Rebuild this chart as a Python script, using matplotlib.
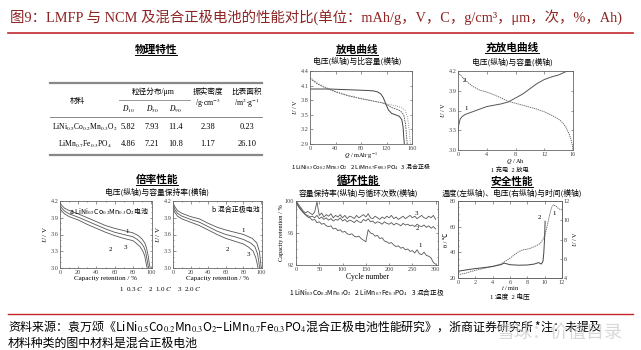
import numpy as np
import matplotlib
matplotlib.use('Agg')
import matplotlib.pyplot as plt
from matplotlib.lines import Line2D
from matplotlib.ticker import MultipleLocator

plt.rcParams['font.family'] = ['Liberation Serif', 'Noto Sans CJK SC']
plt.rcParams['mathtext.fontset'] = 'stix'
CJK = 'Noto Sans CJK SC'

# ---- data ----
title = '图9：LMFP 与 NCM 及混合正极电池的性能对比(单位：mAh/g，V，C，g/cm³，μm，次，%，Ah)'
source1 = ('资料来源：袁万颂《LiNi$_{0.5}$Co$_{0.2}$Mn$_{0.3}$O$_2$–LiMn$_{0.7}$Fe$_{0.3}$PO$_4$'
           '混合正极电池性能研究》，浙商证券研究所 *注：未提及')
source2 = '材料种类的图中材料是混合正极电池'

tbl_names = ['LiNi$_{0.5}$Co$_{0.2}$Mn$_{0.3}$O$_2$', 'LiMn$_{0.7}$Fe$_{0.3}$PO$_4$']
tbl_d10 = ['5.82', '4.86']
tbl_d50 = ['7.93', '7.21']
tbl_d90 = ['11.4', '10.8']
tbl_tap = ['2.38', '1.17']
tbl_bet = ['0.23', '26.10']

# discharge curves (Q mAh/g, U V)
dis_lmfp_q = [0, 15, 30, 50, 70, 90, 100, 106, 111, 115, 119, 123, 128, 134, 140, 144, 146, 147, 148]
dis_lmfp_u = [4.03, 4.03, 4.03, 4.02, 4.01, 4.0, 3.99, 3.97, 3.93, 3.85, 3.72, 3.6, 3.53, 3.5, 3.47, 3.4, 3.25, 3.05, 2.9]
dis_ncm_q = [0, 5, 12, 25, 40, 60, 80, 100, 115, 125, 135, 143, 149, 153, 155, 156.5, 157.5]
dis_ncm_u = [4.27, 4.22, 4.15, 4.06, 3.98, 3.9, 3.84, 3.78, 3.74, 3.71, 3.68, 3.65, 3.6, 3.45, 3.25, 3.05, 2.9]
dis_mix_q = [0, 5, 12, 25, 40, 60, 80, 100, 115, 122, 128, 135, 142, 147, 150, 151.5, 152.5]
dis_mix_u = [4.25, 4.2, 4.13, 4.05, 3.97, 3.89, 3.83, 3.78, 3.74, 3.7, 3.65, 3.62, 3.58, 3.5, 3.3, 3.05, 2.9]

# charge / discharge (Q Ah, U V)
chg_q = [0, 0.1, 0.3, 0.6, 1.0, 2, 3, 4, 5, 6, 7, 8, 9, 10, 11, 12, 13, 14, 15, 15.5, 16]
chg_u = [3.27, 3.38, 3.47, 3.51, 3.54, 3.58, 3.62, 3.66, 3.68, 3.70, 3.73, 3.79, 3.85, 3.93, 4.01, 4.07, 4.11, 4.14, 4.19, 4.2, 4.2]
dchg_q = [0, 0.5, 1, 2, 3, 4, 5, 6, 7, 8, 9, 10, 11, 12, 13, 14, 14.5, 15, 15.4, 15.7, 15.9, 16]
dchg_u = [4.18, 4.12, 4.06, 3.97, 3.91, 3.88, 3.84, 3.79, 3.74, 3.71, 3.68, 3.65, 3.62, 3.58, 3.53, 3.47, 3.42, 3.35, 3.26, 3.17, 3.08, 3.0]

# rate performance (capacity retention %, U V)
ra_x1 = [0, 2, 5, 10, 20, 30, 40, 50, 60, 70, 80, 86, 90, 93, 95, 97, 98, 99]
ra_y1 = [4.17, 4.12, 4.07, 4.03, 3.97, 3.9, 3.83, 3.76, 3.71, 3.67, 3.63, 3.58, 3.52, 3.45, 3.36, 3.2, 3.08, 3.0]
ra_x2 = [0, 2, 5, 10, 20, 30, 40, 50, 60, 70, 80, 85, 89, 92, 94, 95.5, 96.5, 97.3]
ra_y2 = [4.12, 4.07, 4.02, 3.97, 3.91, 3.84, 3.77, 3.7, 3.64, 3.6, 3.56, 3.51, 3.45, 3.38, 3.29, 3.16, 3.06, 3.0]
ra_x3 = [0, 2, 5, 10, 20, 30, 40, 50, 60, 70, 80, 84, 88, 91, 93, 94, 95, 95.7]
ra_y3 = [4.07, 4.02, 3.97, 3.92, 3.86, 3.78, 3.71, 3.64, 3.58, 3.53, 3.49, 3.44, 3.38, 3.3, 3.22, 3.13, 3.05, 3.0]
rb_x1 = [0, 2, 5, 10, 20, 30, 40, 50, 60, 70, 80, 90, 95, 98, 99.5, 100]
rb_y1 = [4.17, 4.1, 4.03, 3.98, 3.92, 3.88, 3.8, 3.73, 3.68, 3.64, 3.6, 3.53, 3.45, 3.3, 3.1, 3.0]
rb_x2 = [0, 2, 5, 10, 20, 30, 40, 50, 60, 70, 80, 88, 93, 96, 97.5, 98.3]
rb_y2 = [4.12, 4.05, 3.98, 3.93, 3.87, 3.82, 3.74, 3.66, 3.6, 3.56, 3.51, 3.45, 3.38, 3.25, 3.1, 3.0]
rb_x3 = [0, 2, 5, 10, 20, 30, 40, 50, 60, 70, 80, 86, 91, 94, 95.5, 96.5]
rb_y3 = [4.07, 4.0, 3.93, 3.88, 3.82, 3.76, 3.68, 3.6, 3.53, 3.48, 3.43, 3.37, 3.3, 3.18, 3.08, 3.0]

# cycle performance (every 5 cycles)
cycles = np.arange(0, 301, 5)
cyc_ncm = [100.0, 99.4, 99.0, 98.6, 98.3, 98.0, 97.9, 97.6, 97.7, 97.3,
           97.4, 97.1, 97.2, 96.9, 96.8, 96.9, 96.5, 96.6, 96.3, 96.4,
           96.1, 96.2, 95.9, 95.8, 95.9, 95.6, 95.5, 95.6, 95.3, 95.1,
           94.9, 96.4, 96.0, 95.9, 95.6, 95.7, 95.3, 95.4, 95.0, 94.9,
           94.7, 94.8, 94.5, 94.3, 94.4, 94.1, 94.2, 93.9, 94.0, 93.7,
           93.8, 93.5, 93.9, 93.4, 93.3, 93.6, 93.2, 93.1, 92.9, 92.3,
           92.1]
cyc_lmfp = [100.0, 99.3, 98.9, 98.6, 98.3, 98.2, 98.0, 98.1, 97.9, 98.2,
            97.8, 98.0, 97.7, 97.9, 97.6, 97.8, 97.5, 97.7, 97.6, 97.9,
            97.5, 97.7, 97.4, 97.6, 97.5, 97.3, 97.6, 97.4, 97.3, 97.7,
            97.5, 97.8, 97.4, 97.5, 97.2, 97.4, 97.3, 97.1, 97.4, 97.2,
            97.1, 97.3, 97.0, 97.2, 97.1, 96.9, 97.2, 97.0, 97.1, 96.9,
            97.0, 96.8, 97.1, 96.9, 96.8, 97.0, 96.7, 96.9, 96.6, 96.8,
            96.5]
cyc_mix = [100.0, 99.6, 99.2, 98.8, 98.5, 98.7, 98.5, 98.3, 98.6, 99.9,
           98.2, 98.5, 98.0, 98.3, 98.1, 98.4, 97.9, 98.2, 98.0, 98.3,
           97.9, 98.2, 97.8, 98.1, 98.0, 97.8, 98.2, 97.9, 98.1, 98.3,
           98.0, 98.4, 97.9, 97.8, 98.1, 97.9, 97.7, 98.0, 97.8, 98.1,
           97.9, 98.2, 97.8, 98.0, 97.7, 97.9, 98.1, 97.8, 98.0, 98.2,
           97.9, 98.1, 97.8, 98.0, 98.2, 97.9, 97.8, 98.1, 97.9, 98.2,
           97.7]

# safety test (t min)
saf_tv = [0, 1, 2, 3, 4, 5, 5.3, 5.6, 6, 7, 8, 8.8, 9.3, 9.6, 9.8, 9.9, 10.0, 10.05]
saf_v = [4.7, 4.85, 4.98, 5.08, 5.2, 5.4, 5.55, 5.48, 5.38, 5.33, 5.35, 5.45, 5.6, 5.45, 5.7, 6.6, 8.3, 9.9]
saf_tt = [0, 1, 2, 3, 4, 5, 6, 6.5, 7, 7.5, 8, 8.5, 9, 9.5, 9.8, 10.0, 10.2, 10.4, 10.6, 10.8, 11.0, 11.3, 11.6, 12]
saf_temp = [22.5, 24, 26, 27.5, 29, 31, 35.5, 38, 40.5, 42, 42.5, 43.5, 45, 47, 50, 53, 58, 64, 70, 75, 77, 76, 74, 73]

# ---- figure ----
W, H = 641, 350
fig = plt.figure(figsize=(W / 100, H / 100), dpi=100)
LC = '#555555'


def fx(x):
    return x / W


def fy(y):
    return 1 - y / H


def put(x, y, s, size, ha='center', **kw):
    return fig.text(fx(x), fy(y), s, fontsize=size, ha=ha, va='center', **kw)


def hline(x0, x1, y, lw=0.8, color='#888888'):
    fig.add_artist(Line2D([fx(x0), fx(x1)], [fy(y), fy(y)], lw=lw, color=color))


def box(l, t, r, b):
    ax = fig.add_axes([fx(l), fy(b), (r - l) / W, (b - t) / H])
    for sp in ax.spines.values():
        sp.set_linewidth(0.6)
        sp.set_color('#666666')
    ax.tick_params(which='both', direction='in', top=True, right=True,
                   width=0.4, labelsize=4.5, pad=1.2, colors='#444444')
    ax.tick_params(which='major', length=1.8)
    ax.tick_params(which='minor', length=1.0)
    return ax


heads = []


def head(x, y, s, sub, sub_y):
    heads.append(put(x, y, s, 7.7, fontweight='bold', family=CJK))
    put(x, sub_y, sub, 5.6, family=CJK)


# title and source
put(10, 17, title, 10.4, ha='left', color='#8e2424')
hline(8, 633, 33, lw=1.2, color='#c0282d')
hline(8, 633, 314, lw=1.0, color='#c0282d')
put(8, 326, source1, 8.6, ha='left', family=CJK)
put(8, 343, source2, 8.6, ha='left', family=CJK)
put(560, 333, '雪球：价值目录', 13, color='#c8c8c8', alpha=0.7, family=CJK)

# ---- physical table ----
head(156, 50, '物理特性', '', 50)
hline(50, 262, 83, lw=1.6)
hline(119, 190, 100, lw=0.6)
hline(50, 262, 117, lw=0.7)
hline(50, 262, 155, lw=1.6)
put(77, 101, '材料', 5.5)
put(153, 92, '粒径分布/μm', 5.5)
for x, s in zip([128, 152, 175], ['$D_{10}$', '$D_{50}$', '$D_{90}$']):
    put(x, 109, s, 5.5)
put(208, 91.5, '振实密度', 5.5)
put(208, 103, '/g·cm$^{-3}$', 5.5)
put(247, 91.5, '比表面积', 5.5)
put(247, 103, '/m$^2$·g$^{-1}$', 5.5)
for i, y in enumerate([127, 144]):
    put(85, y, tbl_names[i], 5.5)
    put(128, y, tbl_d10[i], 6)
    put(152, y, tbl_d50[i], 6)
    put(176, y, tbl_d90[i], 6)
    put(208, y, tbl_tap[i], 6)
    put(247, y, tbl_bet[i], 6)

# ---- discharge curves ----
head(357, 50, '放电曲线', '电压(纵轴)与比容量(横轴)', 61)
ax = box(310, 71, 412, 144)
ax.plot(dis_lmfp_q, dis_lmfp_u, color='#444444', lw=0.7)
ax.plot(dis_mix_q, dis_mix_u, color=LC, lw=0.6, ls='--', dashes=(2, 1))
ax.plot(dis_ncm_q, dis_ncm_u, color='#777777', lw=0.6, ls=':')
ax.set_xlim(0, 160)
ax.set_ylim(2.9, 4.4)
ax.set_xticks([0, 40, 80, 120, 160])
ax.set_yticks([2.9, 3.2, 3.5, 3.8, 4.1, 4.4])
ax.set_ylabel('$U$ / V', fontsize=4.5, labelpad=1)
put(361, 156, '$Q$ / mAh·g$^{-1}$', 4.5)
put(361, 166.5, '1 LiNi$_{0.5}$Co$_{0.2}$Mn$_{0.3}$O$_2$   2 LiMn$_{0.7}$Fe$_{0.3}$PO$_4$   3 混合正极',
    4.3, family=CJK)

# ---- charge / discharge ----
head(512, 48, '充放电曲线', '电压(纵轴)与容量(横轴)', 62)
ax = box(458, 71, 573, 150)
ax.plot(chg_q, chg_u, color=LC, lw=0.7)
ax.plot(dchg_q, dchg_u, color=LC, lw=0.6, ls='--', dashes=(1.5, 1))
ax.set_xlim(0, 16)
ax.set_ylim(3.0, 4.2)
ax.set_xticks([0, 4, 8, 12, 16])
ax.set_yticks([3.0, 3.3, 3.6, 3.9, 4.2])
ax.set_ylabel('$U$ / V', fontsize=4.5, labelpad=1)
ax.text(0.9, 3.6, '1', fontsize=5)
ax.text(0.7, 4.03, '2', fontsize=5)
put(515, 162, '$Q$ / Ah', 4.5)
put(510, 170, '1 充电  2 放电', 4.5)

# ---- rate performance ----
head(157, 180, '倍率性能', '电压(纵轴)与容量保持率(横轴)', 192)
for l, r, curves, txt, tx, ha, labs in [
        (60, 152, [(ra_x1, ra_y1), (ra_x2, ra_y2), (ra_x3, ra_y3)],
         'a LiNi$_{0.5}$Co$_{0.2}$Mn$_{0.3}$O$_2$电池', 0.1, 'left',
         [(74, 3.66, '1'), (55, 3.33, '2'), (72, 3.36, '3')]),
        (173, 262, [(rb_x1, rb_y1), (rb_x2, rb_y2), (rb_x3, rb_y3)],
         'b 混合正极电池', 0.97, 'right',
         [(80, 3.68, '1'), (62, 3.33, '2'), (86, 3.24, '3')])]:
    ax = box(l, 201, r, 268)
    for xs, ys in curves:
        ax.plot(xs, ys, color=LC, lw=0.6)
    ax.set_xlim(0, 101)
    ax.set_ylim(3.0, 4.2)
    ax.set_xticks([0, 20, 40, 60, 80, 100])
    ax.set_yticks([3.0, 3.3, 3.6, 3.9, 4.2])
    ax.xaxis.set_minor_locator(MultipleLocator(10))
    ax.yaxis.set_minor_locator(MultipleLocator(0.1))
    ax.set_ylabel('$U$ / V', fontsize=5, labelpad=1)
    ax.set_xlabel('Capacity retention / %', fontsize=5, labelpad=1)
    ax.text(tx, 0.93, txt, transform=ax.transAxes, fontsize=5, ha=ha, va='top', family=CJK)
    for x, y, s in labs:
        ax.text(x, y, s, fontsize=5, ha='center', va='center')
put(160, 289, '1  0.3 $C$    2  1.0 $C$    3  2.0 $C$', 5)

# ---- cycle performance ----
head(358, 180, '循环性能', '容量保持率(纵轴)与循环次数(横轴)', 193)
ax = box(296, 201, 438, 265)
ax.plot(cycles, cyc_ncm, color=LC, lw=0.6)
ax.plot(cycles, cyc_lmfp, color=LC, lw=0.6)
ax.plot(cycles, cyc_mix, color=LC, lw=0.6)
ax.set_xlim(0, 305)
ax.set_ylim(92, 100)
ax.set_xticks([0, 50, 100, 150, 200, 250, 300])
ax.set_yticks([92, 96, 100])
ax.yaxis.set_minor_locator(MultipleLocator(1))
ax.set_ylabel('Capacity retention / %', fontsize=4.5, labelpad=1)
ax.set_xlabel('Cycle number', fontsize=5.5, labelpad=1)
ax.text(262, 94.3, '1', fontsize=5)
ax.text(258, 96.4, '2', fontsize=5)
ax.text(255, 98.3, '3', fontsize=5)
put(367, 293, '1 LiNi$_{0.5}$Co$_{0.2}$Mn$_{0.3}$O$_2$   2 LiMn$_{0.7}$Fe$_{0.3}$PO$_4$   3 混合正极',
    4.8, family=CJK)

# ---- safety ----
head(512, 182, '安全性能', '温度(左纵轴)、电压(右纵轴)与时间(横轴)', 193)
ax = box(458, 201, 562, 278)
ax.tick_params(which='both', right=False)
ax.plot(saf_tt, saf_temp, color=LC, lw=0.6, ls='--', dashes=(1.5, 1))
ax.set_xlim(0, 12)
ax.set_ylim(20, 80)
ax.set_xticks([0, 2, 4, 6, 8, 10, 12])
ax.set_yticks([20, 40, 60, 80])
ax.yaxis.set_minor_locator(MultipleLocator(5))
ax.set_ylabel('θ / ℃', fontsize=4.5, labelpad=1)
ax2 = ax.twinx()
ax2.plot(saf_tv, saf_v, color='#444444', lw=0.7)
ax2.set_ylim(4, 12)
ax2.set_yticks([4, 6, 8, 10, 12])
ax2.tick_params(direction='in', width=0.4, length=1.8, labelsize=4.5, pad=1.2, colors='#444444')
ax2.set_ylabel('$U$ / V', fontsize=4.5, labelpad=1)
for sp in ax2.spines.values():
    sp.set_linewidth(0.6)
    sp.set_color('#666666')
ax2.text(9.45, 10.1, '2', fontsize=5, ha='center')
ax2.text(11.1, 10.5, '1', fontsize=5, ha='center')
put(510, 287.5, '$t$ / min', 4.5)
put(510, 296, '1 温度  2 电压', 4.8)

# underline the section heads
fig.canvas.draw()
rend = fig.canvas.get_renderer()
for t in heads:
    bb = t.get_window_extent(rend)
    fig.add_artist(Line2D([bb.x0 / W, bb.x1 / W], [(bb.y0 + 0.5) / H] * 2, lw=0.7, color='black'))

fig.savefig('out.png', dpi=100, facecolor='white')
